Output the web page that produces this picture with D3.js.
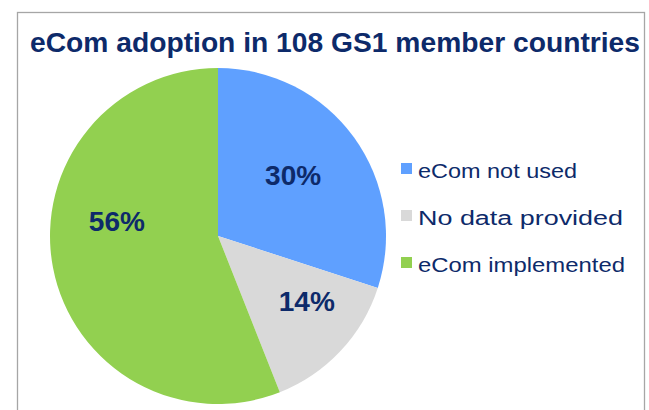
<!DOCTYPE html>
<html>
<head>
<meta charset="utf-8">
<script src="https://cdn.jsdelivr.net/npm/d3@7"></script>
<style>
  body { margin: 0; background: #fff; }
  svg { display: block; font-family: "Liberation Sans", Arial, sans-serif; }
</style>
</head>
<body>
<div id="chart"></div>
<script>
// donnees
var categories = ["eCom not used", "No data provided", "eCom implemented"];
var valeurs = [30, 14, 56];
var couleurs = ["#5fa0ff", "#d9d9d9", "#92d050"];
var titre = "eCom adoption in 108 GS1 member countries";

var largeur = 649, hauteur = 410;
var rayon = 168, cx = 218, cy = 236;
var bleuNuit = "#0d2a6a";
// petits decalages des etiquettes (Excel ne les met pas au centre exact)
var decalages = [[-9, 0], [13, -6], [1, -35]];

var svg = d3.select("#chart").append("svg")
    .attr("width", largeur).attr("height", hauteur);

// cadre gris autour du graphique
svg.append("rect")
    .attr("x", 17.5).attr("y", 12.5)
    .attr("width", 627).attr("height", 420)
    .style("fill", "none").style("stroke", "#a6a6a6").style("stroke-width", 1.3);

svg.append("text")
    .attr("x", 30).attr("y", 52)
    .attr("textLength", 610).attr("lengthAdjust", "spacingAndGlyphs")
    .style("font-size", "27px").style("font-weight", "bold")
    .style("fill", bleuNuit)
    .text(titre);

var pie = d3.pie().sort(null).value(function(d) { return d; });
var arc = d3.arc().innerRadius(0).outerRadius(rayon);
var arcLabel = d3.arc().innerRadius(104).outerRadius(104);
var parts = pie(valeurs);

var g = svg.append("g").attr("transform", "translate(" + cx + "," + cy + ")");
g.selectAll("path").data(parts).enter().append("path")
    .attr("d", arc)
    .style("fill", function(d, i) { return couleurs[i]; });

g.selectAll("text").data(parts).enter().append("text")
    .attr("transform", function(d, i) {
        var c = arcLabel.centroid(d);
        return "translate(" + (c[0] + decalages[i][0]) + "," + (c[1] + decalages[i][1]) + ")";
    })
    .attr("text-anchor", "middle")
    .attr("dy", "0.36em")
    .style("font-size", "28px").style("font-weight", "bold")
    .style("fill", bleuNuit)
    .text(function(d) { return d.data + "%"; });

// legende
var larg = [159, 205, 207];
var leg = svg.append("g").attr("transform", "translate(401,163)");
var lignes = leg.selectAll("g").data(categories).enter().append("g")
    .attr("transform", function(d, i) { return "translate(0," + (i * 47) + ")"; });
lignes.append("rect")
    .attr("width", 11).attr("height", 11)
    .style("fill", function(d, i) { return couleurs[i]; });
lignes.append("text")
    .attr("x", 17).attr("y", 14.5)
    .attr("textLength", function(d, i) { return larg[i]; })
    .attr("lengthAdjust", "spacingAndGlyphs")
    .style("font-size", "20px")
    .style("fill", bleuNuit)
    .text(function(d) { return d; });
</script>
</body>
</html>
